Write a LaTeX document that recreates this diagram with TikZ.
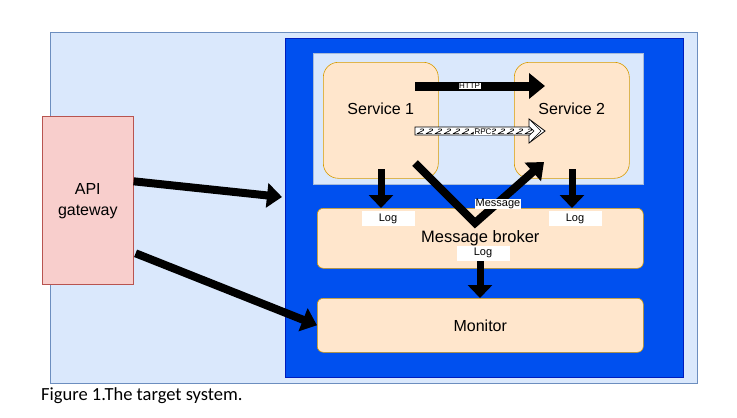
\documentclass[tikz,border=0pt]{standalone}
\usepackage{fontspec}
\setmainfont{Liberation Sans}
\newfontfamily\capfont{Carlito}
\usetikzlibrary{arrows.meta,decorations.pathmorphing}
\definecolor{lblue}{HTML}{DAE8FC}
\definecolor{lbluedraw}{HTML}{6C8EBF}
\definecolor{dblue}{HTML}{0050EF}
\definecolor{dbluedraw}{HTML}{001DBC}
\definecolor{orfill}{HTML}{FFE6CC}
\definecolor{ordraw}{HTML}{D79B00}
\definecolor{rdfill}{HTML}{F8CECC}
\definecolor{rddraw}{HTML}{B85450}
\begin{document}
\begin{tikzpicture}[x=1pt,y=-1pt,
  plainbox/.style={inner sep=0pt, anchor=north west},
  svcbox/.style={plainbox, draw=ordraw, fill=orfill, line width=0.6pt},
  bigtext/.style={font=\fontsize{16}{20}\selectfont},
  fatarrow/.style={line width=8pt, -{Triangle[length=15pt,width=24pt]}},
  logarrow/.style={line width=7pt, -{Triangle[length=13pt,width=24pt]}},
  lbl/.style={fill=white, inner sep=0.5pt, font=\fontsize{11}{12}\selectfont},
  logbox/.style={fill=white, minimum width=53pt, minimum height=15pt, inner sep=0pt, font=\fontsize{11}{12}\selectfont}]
\useasboundingbox (0,0) rectangle (737,418);
\fill[white] (0,0) rectangle (737,418);
% containers
\node[plainbox, draw=lbluedraw, fill=lblue, line width=0.6pt, minimum width=647pt, minimum height=351pt] (outer) at (50,32) {};
\node[plainbox, draw=dbluedraw, fill=dblue, line width=0.6pt, minimum width=398pt, minimum height=339pt] (blue) at (285,38) {};
\node[plainbox, draw=lbluedraw!60, fill=lblue, line width=0.5pt, minimum width=330pt, minimum height=131pt] (inner) at (313,53) {};
% services
\node[svcbox, rounded corners=15pt, minimum width=115pt, minimum height=116pt] (s1) at (323,62) {};
\node[bigtext] (s1t) at ([yshift=12pt]s1.center) {Service 1};
\node[svcbox, rounded corners=15pt, minimum width=115pt, minimum height=116pt] (s2) at (514,62) {};
\node[bigtext] (s2t) at ([yshift=12pt]s2.center) {Service 2};
% broker, monitor
\node[svcbox, rounded corners=6pt, minimum width=326pt, minimum height=60pt] (broker) at (317,208) {};
\node[font=\fontsize{16.5}{20}\selectfont] (brokert) at (broker.center) {Message broker};
\node[svcbox, rounded corners=6pt, minimum width=326pt, minimum height=54pt, bigtext] (monitor) at (317,298) {};
\node[bigtext] (monitort) at (monitor.center) {Monitor};
% API gateway
\node[plainbox, draw=rddraw, fill=rdfill, line width=0.6pt, minimum width=91pt, minimum height=168pt] (api) at (42,116) {};
\node[bigtext, align=center] (apit) at ([yshift=-1pt]api.center) {API\\[1pt]gateway};
% coordinates
\coordinate (h1) at (415,86);
\coordinate (h2) at (545,86);
\coordinate (l1a) at (381,169);
\coordinate (l2a) at (572,169);
\coordinate (m1) at (415,163);
\coordinate (mv) at (475,223);
\coordinate (m2) at (544,162);
\coordinate (g1) at (282,197);
\coordinate (b1) at (480,261);
% HTTP arrow
\draw[line width=9pt, -{Triangle[length=16pt,width=25pt]}] (h1) -- (h2)
  node[pos=0.42, fill=white, inner sep=0.5pt, font=\fontsize{8}{9}\selectfont] (http) {HTTP};
% RPC arrow
\begin{scope}
\path[fill=white] (415,127) -- (529,127) -- (529,119) -- (545,131) -- (529,143) -- (529,135) -- (415,135) -- cycle;
\clip (415,127) -- (529,127) -- (529,119) -- (545,131) -- (529,143) -- (529,135) -- (415,135) -- cycle;
\foreach \x in {417,426,...,526} {
  \draw[line width=0.6pt, line join=round] (\x+3,129.3) .. controls (\x+6,128.3) and (\x+8,129.3) .. (\x+6.5,130.3) -- (\x,133.6) -- (\x+6,133.6);
}
\draw[line width=0.6pt] (524,122) -- (534,131) -- (524,140);
\draw[line width=0.6pt] (531,121) -- (541,131) -- (531,141);
\end{scope}
\draw[line width=0.8pt] (415,127) -- (529,127) -- (529,119) -- (545,131) -- (529,143) -- (529,135) -- (415,135) -- cycle;
\node[fill=white, inner sep=0.5pt, font=\fontsize{8}{9}\selectfont] (rpc) at (483,132) {RPC};
% log arrows
\draw[logarrow] (l1a) -- (l1a |- broker.north);
\draw[logarrow] (l2a) -- (l2a |- broker.north);
\draw[logarrow] (b1) -- (b1 |- monitor.north);
% message arrow
\draw[line width=8pt, -{Triangle[length=15pt,width=24pt]}] (m1) -- (mv) -- (m2);
\node[lbl] (msg) at (498,204) {Message};
% log labels
\node[logbox] (log1) at (388,218.5) {Log};
\node[logbox] (log2) at (575,218.5) {Log};
\node[logbox] (log3) at (483,253) {Log};
% API arrows
\draw[fatarrow] ([yshift=19pt]api.east) -- (g1);
\draw[fatarrow] ([yshift=-53pt,xshift=2pt]api.east) -- (monitor.west);
% caption
\node[anchor=west, inner sep=0pt, font=\capfont\fontsize{18.5}{22}\selectfont] (cap) at (41,396) {Figure 1.The target system.};
\end{tikzpicture}
\end{document}
